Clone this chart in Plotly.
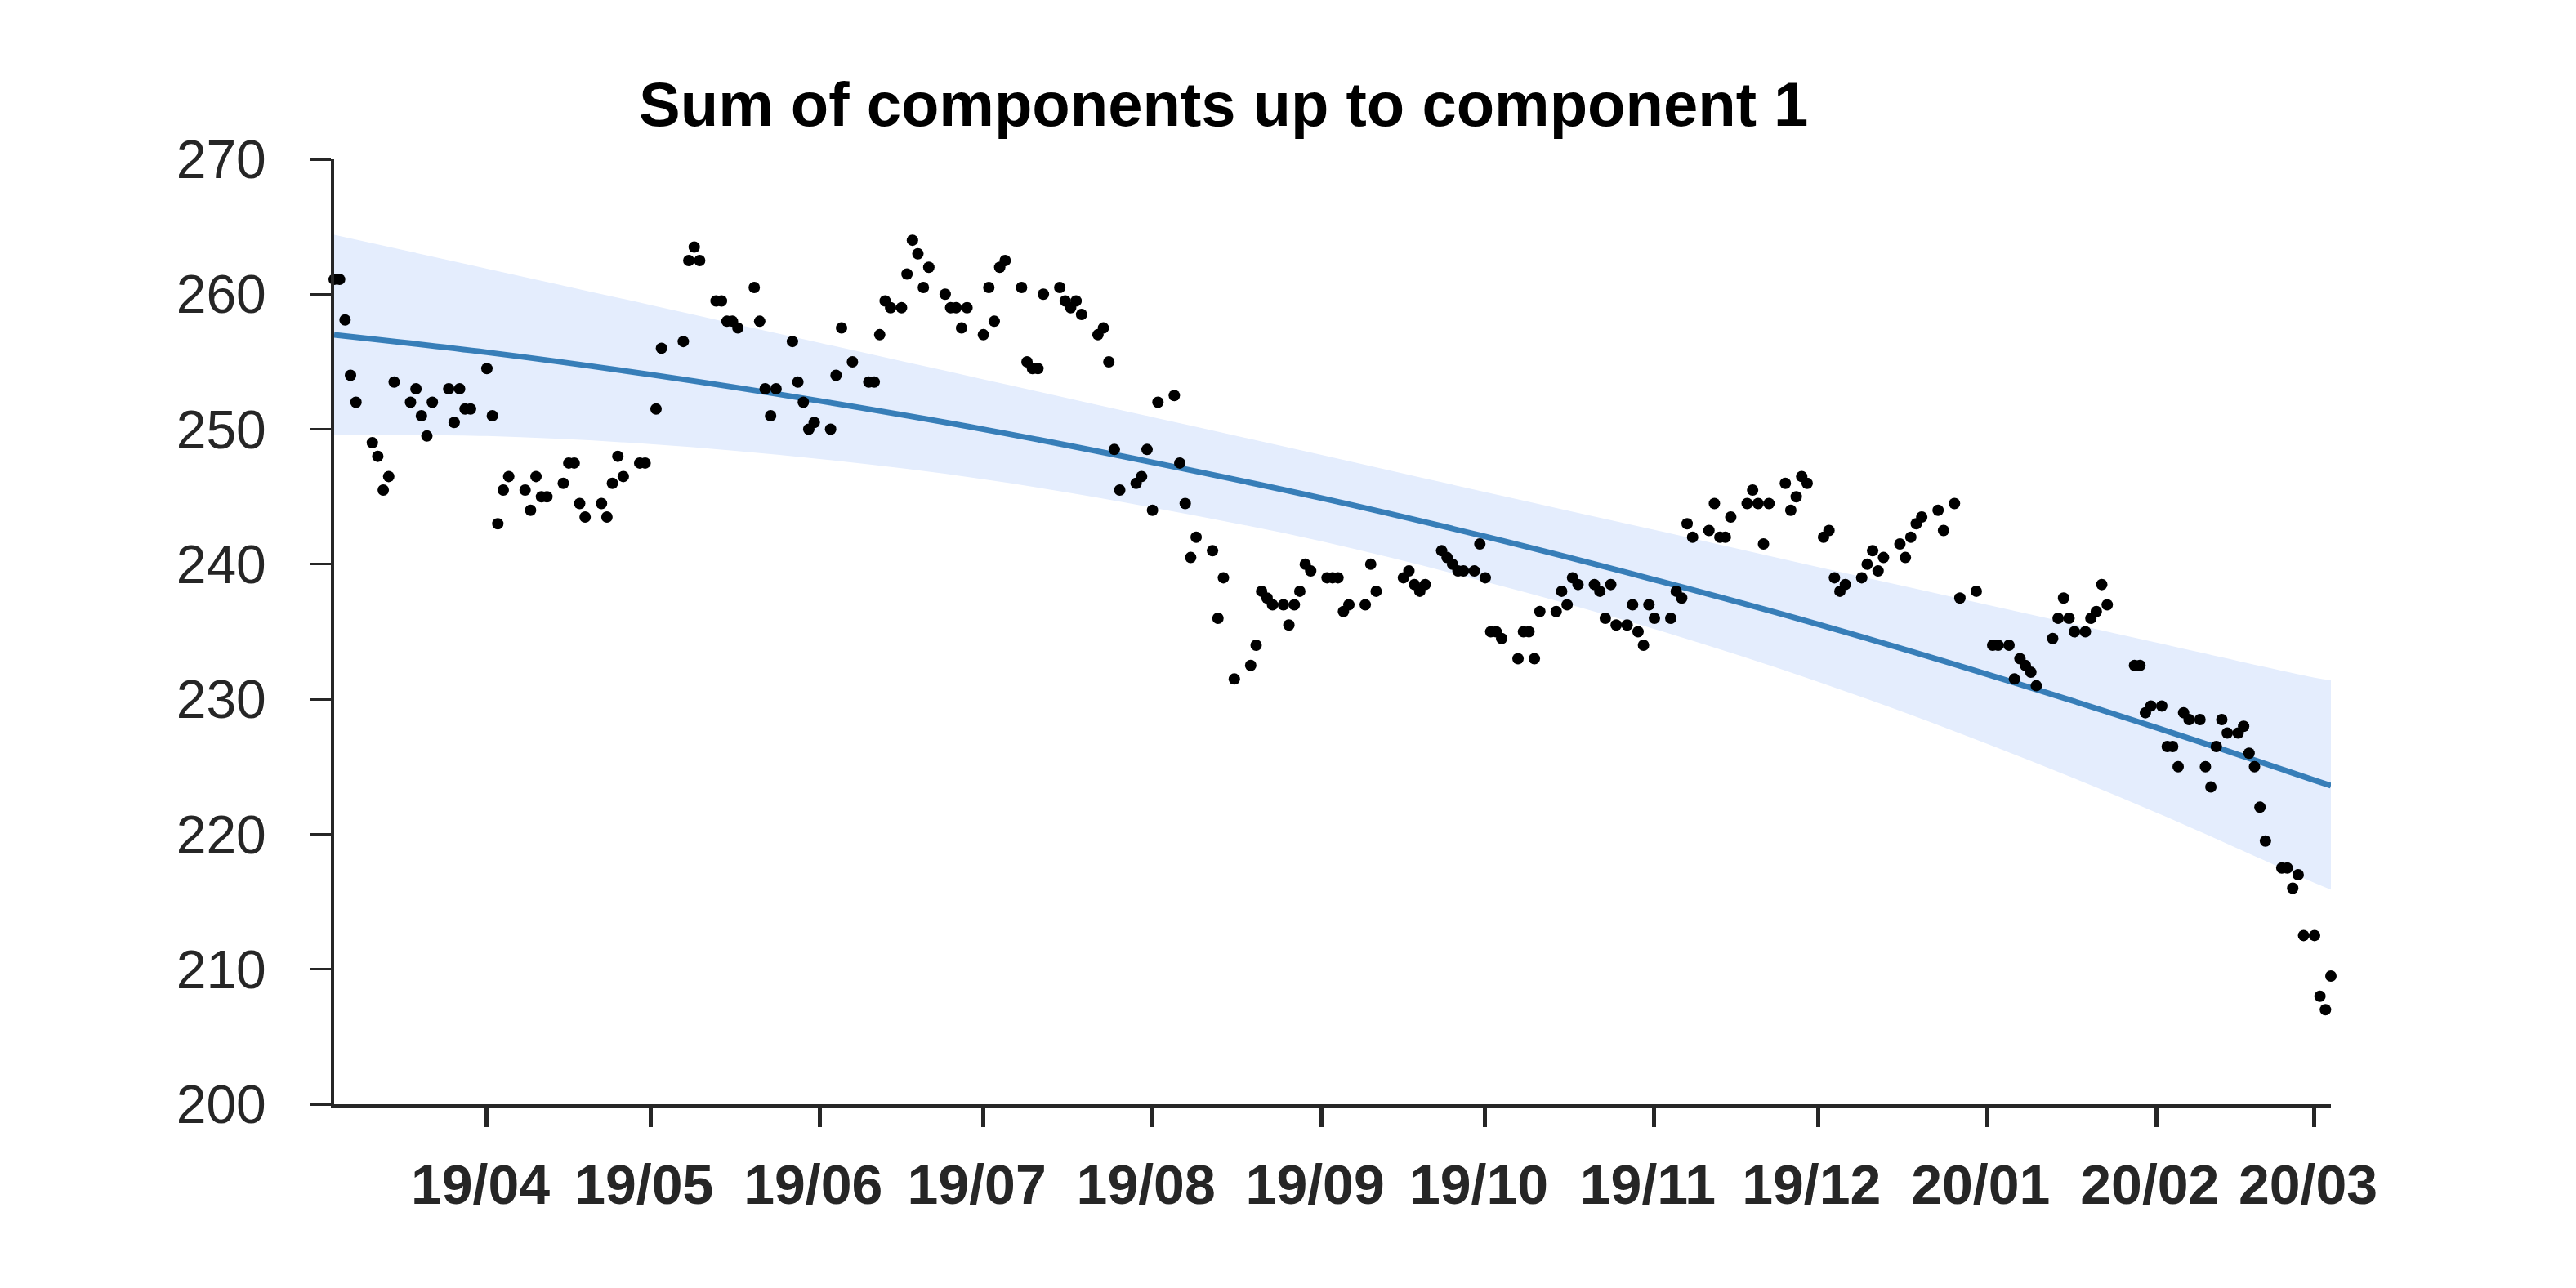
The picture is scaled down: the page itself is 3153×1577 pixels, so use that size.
import pandas as pd
import plotly.graph_objects as go

# ---------------- data ----------------
start_date = pd.Timestamp("2019-03-04")

obs_day = [
    0, 1, 2, 3, 4,
    7, 8, 9, 10, 11,
    14, 15, 16, 17, 18,
    21, 22, 23, 24, 25,
    28, 29, 30, 31, 32,
    35, 36, 37, 38, 39,
    42, 43, 44, 45, 46,
    49, 50, 51, 52, 53,
    56, 57, 59, 60,
    64, 65, 66, 67,
    70, 71, 72, 73, 74,
    77, 78, 79, 80, 81,
    84, 85, 86, 87, 88,
    91, 92, 93, 95,
    98, 99, 100, 101, 102,
    104, 105, 106, 107, 108, 109,
    112, 113, 114, 115, 116,
    119, 120, 121, 122, 123,
    126, 127, 128, 129, 130,
    133, 134, 135, 136, 137,
    140, 141, 142, 143, 144,
    147, 148, 149, 150, 151,
    154, 155, 156, 157, 158,
    161, 162, 163, 165,
    168, 169, 170, 171, 172,
    174, 175, 176, 177, 178, 179,
    182, 183, 184, 185, 186,
    189, 190, 191,
    196, 197, 198, 199, 200,
    203, 204, 205, 206, 207,
    209, 210, 211, 212, 213, 214,
    217, 218, 219, 220, 221,
    224, 225, 226, 227, 228,
    231, 232, 233, 234, 235,
    237, 238, 239, 240, 241, 242,
    245, 246, 247, 248, 249,
    252, 253, 254, 255, 256,
    259, 260, 261, 262, 263,
    266, 267, 268, 269, 270,
    273, 274, 275, 276, 277,
    280, 281, 282, 283, 284,
    287, 288, 289, 290, 291,
    294, 295, 297, 298,
    301, 304, 305,
    307, 308, 309, 310, 311, 312,
    315, 316, 317, 318, 319,
    321, 322, 323, 324, 325,
    330, 331, 332, 333,
    335, 336, 337, 338, 339, 340,
    342, 343, 344, 345, 346, 347,
    349, 350, 351, 352, 353, 354,
    357, 358, 359, 360, 361,
    363, 364, 365, 366,
]

obs_value = [
    261.1, 261.1, 258.1, 254.0, 252.0,
    249.0, 248.0, 245.5, 246.5, 253.5,
    252.0, 253.0, 251.0, 249.5, 252.0,
    253.0, 250.5, 253.0, 251.5, 251.5,
    254.5, 251.0, 243.0, 245.5, 246.5,
    245.5, 244.0, 246.5, 245.0, 245.0,
    246.0, 247.5, 247.5, 244.5, 243.5,
    244.5, 243.5, 246.0, 248.0, 246.5,
    247.5, 247.5, 251.5, 256.0,
    256.5, 262.5, 263.5, 262.5,
    259.5, 259.5, 258.0, 258.0, 257.5,
    260.5, 258.0, 253.0, 251.0, 253.0,
    256.5, 253.5, 252.0, 250.0, 250.5,
    250.0, 254.0, 257.5, 255.0,
    253.5, 253.5, 257.0, 259.5, 259.0,
    259.0, 261.5, 264.0, 263.0, 260.5, 262.0,
    260.0, 259.0, 259.0, 257.5, 259.0,
    257.0, 260.5, 258.0, 262.0, 262.5,
    260.5, 255.0, 254.5, 254.5, 260.0,
    260.5, 259.5, 259.0, 259.5, 258.5,
    257.0, 257.5, 255.0, 248.5, 245.5,
    246.0, 246.5, 248.5, 244.0, 252.0,
    252.5, 247.5, 244.5, 240.5, 242.0,
    241.0, 236.0, 239.0, 231.5,
    232.5, 234.0, 238.0, 237.5, 237.0,
    237.0, 235.5, 237.0, 238.0, 240.0, 239.5,
    239.0, 239.0, 239.0, 236.5, 237.0,
    237.0, 240.0, 238.0,
    239.0, 239.5, 238.5, 238.0, 238.5,
    241.0, 240.5, 240.0, 239.5, 239.5,
    239.5, 241.5, 239.0, 235.0, 235.0, 234.5,
    233.0, 235.0, 235.0, 233.0, 236.5,
    236.5, 238.0, 237.0, 239.0, 238.5,
    238.5, 238.0, 236.0, 238.5, 235.5,
    235.5, 237.0, 235.0, 234.0, 237.0, 236.0,
    236.0, 238.0, 237.5, 243.0, 242.0,
    242.5, 244.5, 242.0, 242.0, 243.5,
    244.5, 245.5, 244.5, 241.5, 244.5,
    246.0, 244.0, 245.0, 246.5, 246.0,
    242.0, 242.5, 239.0, 238.0, 238.5,
    239.0, 240.0, 241.0, 239.5, 240.5,
    241.5, 240.5, 242.0, 243.0, 243.5,
    244.0, 242.5, 244.5, 237.5,
    238.0, 234.0, 234.0,
    234.0, 231.5, 233.0, 232.5, 232.0, 231.0,
    234.5, 236.0, 237.5, 236.0, 235.0,
    235.0, 236.0, 236.5, 238.5, 237.0,
    232.5, 232.5, 229.0, 229.5,
    229.5, 226.5, 226.5, 225.0, 229.0, 228.5,
    228.5, 225.0, 223.5, 226.5, 228.5, 227.5,
    227.5, 228.0, 226.0, 225.0, 222.0, 219.5,
    217.5, 217.5, 216.0, 217.0, 212.5,
    212.5, 208.0, 207.0, 209.5,
]

trend_dates = ["2019-03-04", "2019-04-01", "2019-05-01", "2019-06-01",
               "2019-07-01", "2019-08-01", "2019-09-01", "2019-10-01",
               "2019-11-01", "2019-12-01", "2020-01-01", "2020-02-01",
               "2020-03-01", "2020-03-04"]
trend_mean = [257.0, 255.7, 254.05, 252.1, 250.0, 247.55, 244.9, 242.05,
              238.85, 235.55, 231.85, 227.9, 224.0, 223.6]
trend_upper = [264.4, 261.9, 259.2, 256.4, 253.7, 250.9, 248.1, 245.35,
               242.55, 239.8, 237.0, 234.2, 231.6, 231.4]
trend_lower = [249.6, 249.5, 248.9, 247.8, 246.3, 244.2, 241.7, 238.7,
               235.2, 231.3, 226.7, 221.6, 216.4, 215.9]

tick_dates = ["2019-04-01", "2019-05-01", "2019-06-01", "2019-07-01",
              "2019-08-01", "2019-09-01", "2019-10-01", "2019-11-01",
              "2019-12-01", "2020-01-01", "2020-02-01", "2020-03-01"]
tick_labels = ["19/04", "19/05", "19/06", "19/07", "19/08", "19/09",
               "19/10", "19/11", "19/12", "20/01", "20/02", "20/03"]
y_ticks = [200, 210, 220, 230, 240, 250, 260, 270]

title_text = "Sum of components up to component 1"

# ---------------- figure ----------------
obs_dates = [start_date + pd.Timedelta(days=d) for d in obs_day]

INK = "#262626"
FONT = "Liberation Sans, Arial, Helvetica, sans-serif"

fig = go.Figure()

fig.add_trace(go.Scatter(
    x=trend_dates, y=trend_upper, mode="lines",
    line=dict(width=0, color="rgba(0,0,0,0)", shape="spline"),
    hoverinfo="skip", showlegend=False))
fig.add_trace(go.Scatter(
    x=trend_dates, y=trend_lower, mode="lines",
    line=dict(width=0, color="rgba(0,0,0,0)", shape="spline"),
    fill="tonexty", fillcolor="rgb(228,237,253)",
    hoverinfo="skip", showlegend=False))
fig.add_trace(go.Scatter(
    x=trend_dates, y=trend_mean, mode="lines",
    line=dict(width=7, color="#377eb8", shape="spline"),
    showlegend=False))
fig.add_trace(go.Scatter(
    x=obs_dates, y=obs_value, mode="markers",
    marker=dict(size=14, color="black", line=dict(width=0)),
    cliponaxis=False, showlegend=False))

fig.update_layout(
    width=3153, height=1577, autosize=False,
    margin=dict(l=409, r=300, t=195, b=225),
    paper_bgcolor="white", plot_bgcolor="white",
    font=dict(family=FONT, color=INK),
    title=dict(text=title_text, x=0.475, xanchor="center",
               y=0.919, yanchor="middle", yref="container",
               font=dict(size=76, weight="bold", color="black", family=FONT)),
)

fig.update_xaxes(
    range=["2019-03-04", "2020-03-04"],
    tickmode="array", tickvals=tick_dates, ticktext=tick_labels,
    showgrid=False, zeroline=False,
    showline=True, linecolor=INK, linewidth=4,
    ticks="outside", ticklen=24, tickwidth=5, tickcolor=INK,
    tickfont=dict(size=68, weight="bold", color=INK, family=FONT),
    ticklabelstandoff=12, ticklabelshift=-8,
)
fig.update_yaxes(
    range=[200, 270],
    tickmode="array", tickvals=y_ticks,
    ticktext=[str(v) for v in y_ticks],
    showgrid=False, zeroline=False,
    showline=True, linecolor=INK, linewidth=4,
    ticks="outside", ticklen=26, tickwidth=3, tickcolor=INK,
    tickfont=dict(size=66, color=INK, family=FONT),
    ticklabelstandoff=40,
)

fig.write_html("out.html")
